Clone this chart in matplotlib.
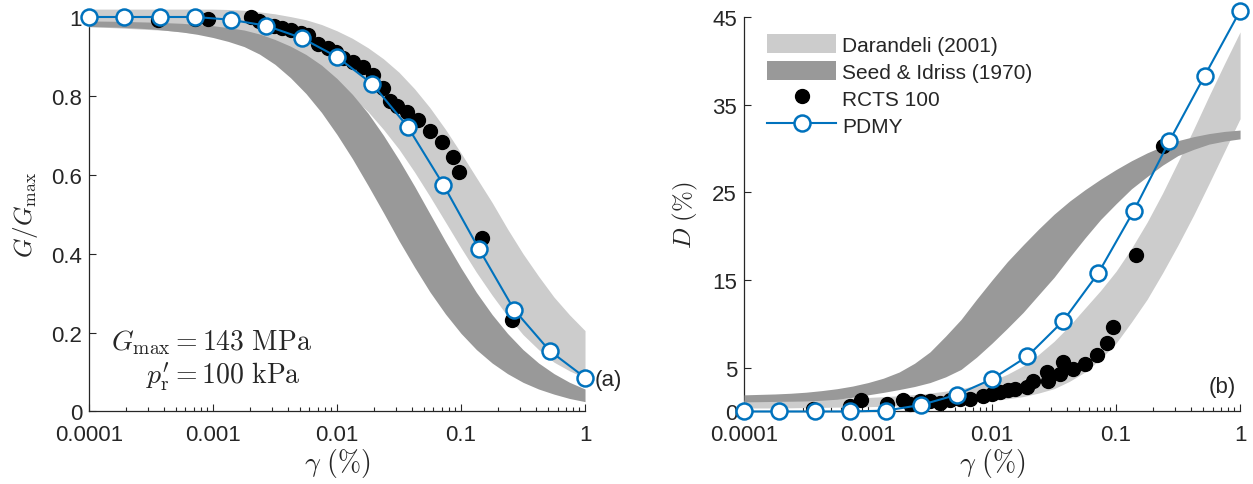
import matplotlib.pyplot as plt
from matplotlib.patches import Patch
from matplotlib.lines import Line2D

plt.rcParams['font.family'] = ['Liberation Sans', 'DejaVu Sans']
plt.rcParams['mathtext.fontset'] = 'cm'

# strain grid (%) used for the empirical bands, 8 points per decade
band_strain = [0.0001, 0.000133, 0.000178, 0.000237, 0.000316, 0.000422, 0.000562, 0.00075,
               0.001, 0.00133, 0.00178, 0.00237, 0.00316, 0.00422, 0.00562, 0.0075,
               0.01, 0.0133, 0.0178, 0.0237, 0.0316, 0.0422, 0.0562, 0.075,
               0.1, 0.133, 0.178, 0.237, 0.316, 0.422, 0.562, 0.75, 1.0]

# G/Gmax bands
dar_g_hi = [1.02, 1.02, 1.02, 1.02, 1.02, 1.02, 1.02, 1.02, 1.02, 1.019, 1.017, 1.013,
            1.008, 1.001, 0.993, 0.981, 0.965, 0.946, 0.922, 0.894, 0.86, 0.818, 0.77,
            0.715, 0.655, 0.593, 0.53, 0.463, 0.40, 0.343, 0.29, 0.245, 0.205]
dar_g_lo = [0.975, 0.974, 0.972, 0.97, 0.968, 0.966, 0.962, 0.958, 0.952, 0.945, 0.937,
            0.927, 0.914, 0.899, 0.88, 0.857, 0.83, 0.797, 0.76, 0.715, 0.665, 0.607,
            0.545, 0.48, 0.415, 0.353, 0.295, 0.242, 0.195, 0.157, 0.125, 0.103, 0.085]
si_g_hi = [0.99, 0.9895, 0.989, 0.988, 0.987, 0.9855, 0.984, 0.981, 0.978, 0.973, 0.967,
           0.957, 0.943, 0.926, 0.905, 0.878, 0.844, 0.804, 0.756, 0.70, 0.638, 0.571,
           0.501, 0.431, 0.364, 0.302, 0.246, 0.198, 0.157, 0.123, 0.096, 0.074, 0.057]
si_g_lo = [0.976, 0.975, 0.974, 0.972, 0.970, 0.966, 0.962, 0.956, 0.948, 0.938, 0.925,
           0.906, 0.88, 0.846, 0.806, 0.758, 0.702, 0.641, 0.573, 0.504, 0.433, 0.366,
           0.303, 0.247, 0.198, 0.157, 0.123, 0.096, 0.074, 0.057, 0.044, 0.033, 0.025]

# damping bands (%)
dar_d_hi = [1.3, 1.32, 1.35, 1.37, 1.4, 1.45, 1.5, 1.55, 1.6, 1.69, 1.8, 1.93, 2.1, 2.32,
            2.6, 2.98, 3.5, 4.25, 5.2, 6.5, 8.0, 9.8, 11.8, 13.8, 16.0, 18.6, 21.6, 24.9,
            28.5, 32.2, 36.0, 39.7, 43.3]
dar_d_lo = [0.4, 0.4, 0.4, 0.42, 0.45, 0.47, 0.5, 0.52, 0.55, 0.6, 0.65, 0.72, 0.8, 0.9,
            1.0, 1.12, 1.25, 1.45, 1.7, 2.1, 2.6, 3.45, 4.5, 6.0, 7.8, 10.2, 12.8, 15.8,
            19.0, 22.4, 26.0, 29.7, 33.4]
si_d_hi = [1.9, 1.95, 2.0, 2.08, 2.2, 2.38, 2.6, 2.9, 3.3, 3.8, 4.5, 5.5, 6.8, 8.6, 10.5,
           12.8, 15.0, 17.1, 19.0, 20.8, 22.5, 24.0, 25.3, 26.5, 27.6, 28.6, 29.5, 30.25,
           30.9, 31.35, 31.7, 31.95, 32.1]
si_d_lo = [1.1, 1.12, 1.15, 1.17, 1.2, 1.28, 1.4, 1.62, 1.9, 2.18, 2.5, 2.85, 3.3, 3.95,
           4.8, 6.2, 7.8, 9.5, 11.3, 13.3, 15.3, 17.6, 19.8, 21.9, 23.7, 25.4, 26.8, 28.1,
           29.2, 29.9, 30.5, 30.85, 31.1]

# RCTS test, p'r = 100 kPa
rcts_g_strain = [0.000359, 0.00072, 0.000908, 0.00201, 0.00234, 0.00308, 0.00363, 0.00423,
                 0.00508, 0.00579, 0.00697, 0.00839, 0.00973, 0.01128, 0.01357, 0.01633,
                 0.01966, 0.02366, 0.02697, 0.0307, 0.0369, 0.0453, 0.0566, 0.0707,
                 0.0867, 0.0968, 0.148, 0.259]
rcts_g = [0.992, 0.995, 0.995, 1.0, 0.99, 0.978, 0.972, 0.968, 0.96, 0.955, 0.932, 0.922,
          0.91, 0.897, 0.887, 0.872, 0.854, 0.82, 0.786, 0.775, 0.76, 0.74, 0.71, 0.683,
          0.644, 0.606, 0.44, 0.232]
rcts_d_strain = [0.00036, 0.000716, 0.00088, 0.00142, 0.00191, 0.00218, 0.00262, 0.00316,
                 0.00381, 0.00458, 0.00552, 0.00665, 0.00845, 0.01, 0.0116, 0.0135, 0.0153,
                 0.0191, 0.0214, 0.0278, 0.0283, 0.0353, 0.0374, 0.045, 0.0562, 0.0703,
                 0.0845, 0.0946, 0.145, 0.239]
rcts_d = [0.3, 0.6, 1.3, 0.8, 1.3, 0.9, 1.2, 1.2, 1.0, 1.3, 1.4, 1.45, 1.8, 2.0, 2.2, 2.4,
          2.6, 2.8, 3.5, 4.5, 3.5, 4.3, 5.6, 4.9, 5.4, 6.4, 7.8, 9.6, 17.9, 30.3]

# PDMY element response
pdmy_strain = [0.0001, 0.000193, 0.000373, 0.00072, 0.00139, 0.00268, 0.00518, 0.01,
               0.0193, 0.0373, 0.072, 0.139, 0.268, 0.518, 1.0]
pdmy_g = [1.0, 1.0, 1.0, 1.0, 0.993, 0.978, 0.947, 0.899, 0.830, 0.721, 0.575, 0.413,
          0.258, 0.154, 0.086]
pdmy_d = [0, 0, 0, 0, 0.1, 0.75, 1.9, 3.7, 6.3, 10.3, 15.8, 22.9, 30.8, 38.3, 45.7]

light = '#cccccc'
dark = '#999999'
blue = '#0072bd'
txt = '#262626'

fig = plt.figure(figsize=(12.53, 4.85), dpi=100)
ax1 = fig.add_axes([0.0710, 0.1495, 0.3959, 0.8134])
ax2 = fig.add_axes([0.5938, 0.1495, 0.3959, 0.8134])


def draw(ax, lo1, hi1, lo2, hi2, xs, ys, yp):
    ax.fill_between(band_strain, lo1, hi1, color=light, lw=0, zorder=3, clip_on=False)
    ax.fill_between(band_strain, lo2, hi2, color=dark, lw=0, zorder=3.1, clip_on=False)
    ax.plot(xs, ys, 'o', color='k', ms=10, zorder=4, clip_on=False)
    ax.plot(pdmy_strain, yp, '-o', color=blue, lw=1.5, ms=11.5, mfc='w', mec=blue,
            mew=1.8, zorder=5, clip_on=False)
    ax.set_xscale('log')
    ax.set_xlim(1e-4, 1)
    ax.set_xticks([1e-4, 1e-3, 1e-2, 1e-1, 1])
    ax.set_xticklabels(['0.0001', '0.001', '0.01', '0.1', '1'])
    for s in ['top', 'right']:
        ax.spines[s].set_visible(False)
    for s in ['left', 'bottom']:
        ax.spines[s].set_color(txt)
        ax.spines[s].set_linewidth(0.9)
    ax.tick_params(which='both', direction='in', colors=txt, labelsize=16, width=0.8)
    ax.tick_params(which='major', length=5)
    ax.tick_params(which='minor', length=3)
    ax.tick_params(axis='x', pad=9)
    ax.tick_params(axis='y', pad=5)
    ax.set_xlabel(r'$\gamma\ (\%)$', fontsize=20, color=txt, labelpad=1)


draw(ax1, dar_g_lo, dar_g_hi, si_g_lo, si_g_hi, rcts_g_strain, rcts_g, pdmy_g)
ax1.set_ylim(0, 1)
ax1.set_yticks([0, 0.2, 0.4, 0.6, 0.8, 1])
ax1.set_yticklabels(['0', '0.2', '0.4', '0.6', '0.8', '1'])
ax1.set_ylabel(r'$G/G_\mathrm{max}$', fontsize=18, color=txt, labelpad=8)
ax1.text(0.246, 0.176, r'$G_\mathrm{max} = 143\ \mathrm{MPa}$', transform=ax1.transAxes,
         ha='center', va='center', fontsize=20, color=txt)
ax1.text(0.27, 0.09, r'$p^{\prime}_\mathrm{r} = 100\ \mathrm{kPa}$', transform=ax1.transAxes,
         ha='center', va='center', fontsize=20, color=txt)
ax1.text(1.046, 0.082, '(a)', transform=ax1.transAxes, ha='center', va='center',
         fontsize=16, color=txt)

draw(ax2, dar_d_lo, dar_d_hi, si_d_lo, si_d_hi, rcts_d_strain, rcts_d, pdmy_d)
ax2.set_ylim(0, 45)
ax2.set_yticks([0, 5, 15, 25, 35, 45])
ax2.set_ylabel(r'$D\ (\%)$', fontsize=18, color=txt, labelpad=9)
ax2.text(0.964, 0.063, '(b)', transform=ax2.transAxes, ha='center', va='center',
         fontsize=16, color=txt)

handles = [Patch(facecolor=light, edgecolor='none'),
           Patch(facecolor=dark, edgecolor='none'),
           Line2D([], [], ls='none', marker='o', color='k', ms=10),
           Line2D([], [], color=blue, lw=1.5, marker='o', ms=11.5, mfc='w', mec=blue, mew=1.8)]
labels = ['Darandeli (2001)', 'Seed & Idriss (1970)', 'RCTS 100', 'PDMY']
ax2.legend(handles, labels, loc='upper left', bbox_to_anchor=(0.03, 0.978), frameon=False,
           fontsize=15, handlelength=3.3, handleheight=1.05, handletextpad=0.3,
           labelspacing=0.3, borderaxespad=0, labelcolor=txt)

fig.savefig('out.png', dpi=100)
